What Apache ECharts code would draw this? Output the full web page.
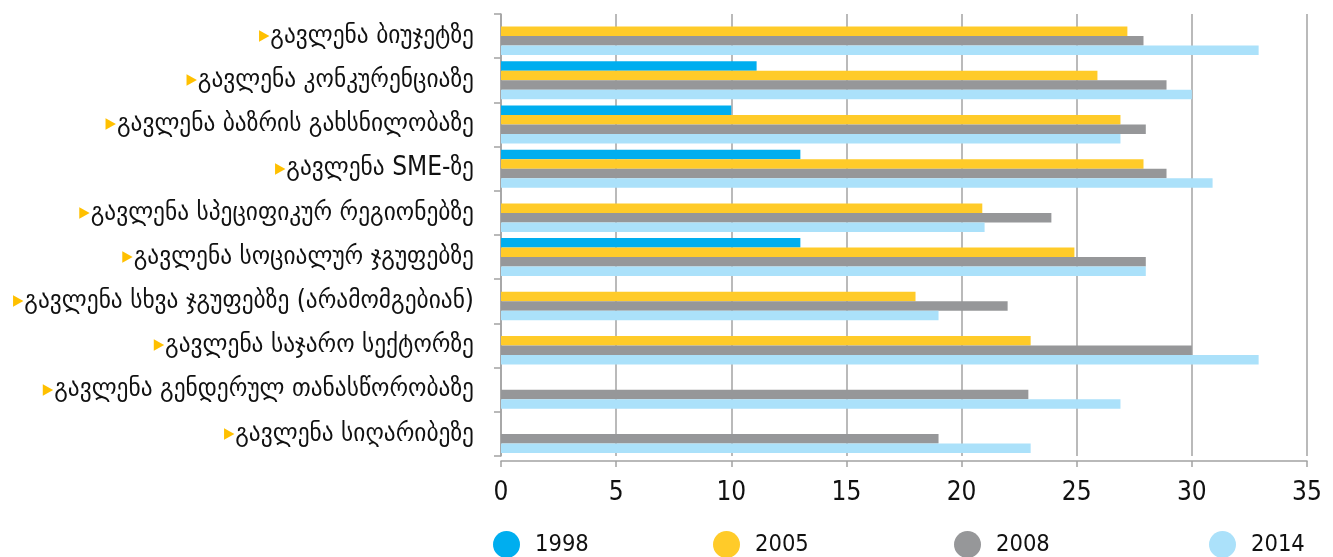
<!DOCTYPE html>
<html>
<head>
  <meta charset="utf-8">
  <title>გავლენა</title>
  <style>
    html, body { margin: 0; padding: 0; background: #fff; }
  </style>
</head>
<body>
  <div id="main" style="width: 1333px;height:557px;"></div>
</body>
<script src="https://cdn.jsdelivr.net/npm/echarts@6/dist/echarts.min.js"></script>
<script>
let myChart = echarts.init(document.querySelector('#main'))

// categories, top to bottom
let categories = [
    'გავლენა ბიუჯეტზე',
    'გავლენა კონკურენციაზე',
    'გავლენა ბაზრის გახსნილობაზე',
    'გავლენა SME-ზე',
    'გავლენა სპეციფიკურ რეგიონებზე',
    'გავლენა სოციალურ ჯგუფებზე',
    'გავლენა სხვა ჯგუფებზე (არამომგებიან)',
    'გავლენა საჯარო სექტორზე',
    'გავლენა გენდერულ თანასწორობაზე',
    'გავლენა სიღარიბეზე'
];
let years = ['1998', '2005', '2008', '2014'];
let colors = ['#00aeef', '#ffcb29', '#969799', '#abe1fa'];

let v1998 = [null, 11.1, 10.0, 13.0, null, 13.0, null, null, null, null];
let v2005 = [27.2, 25.9, 26.9, 27.9, 20.9, 24.9, 18.0, 23.0, null, null];
let v2008 = [27.9, 28.9, 28.0, 28.9, 23.9, 28.0, 22.0, 30.0, 22.9, 19.0];
let v2014 = [32.9, 30.0, 26.9, 30.9, 21.0, 28.0, 19.0, 32.9, 26.9, 23.0];

let xTicks = [0, 5, 10, 15, 20, 25, 30, 35];

let values = [v1998, v2005, v2008, v2014];
let legendLeft = [493, 713, 954, 1209];
let font = "'DejaVu Sans Condensed', 'DejaVu Sans'";

let series = years.map((y, i) => ({
    name: y,
    type: 'bar',
    barGap: '0%',
    barCategoryGap: '14%',
    itemStyle: { color: colors[i] },
    data: values[i]
}));

let legends = years.map((y, i) => ({
    data: [y],
    left: legendLeft[i],
    top: 531,
    padding: 0,
    icon: 'circle',
    itemWidth: 27,
    itemHeight: 27,
    selectedMode: false,
    textStyle: {
        fontFamily: font,
        fontSize: 23.5,
        color: '#111',
        padding: [0, 0, 0, 10]
    }
}));

let gridColor = '#a3a3a3';

let option = {
    animation: false,
    textStyle: { fontFamily: font },
    legend: legends,
    grid: {
        left: 501,
        right: 26,
        top: 14,
        bottom: 101,
        containLabel: false
    },
    xAxis: {
        type: 'value',
        min: xTicks[0],
        max: xTicks[xTicks.length - 1],
        interval: 5,
        offset: 5,
        axisLine: { show: true, lineStyle: { color: gridColor, width: 1.5 } },
        axisTick: { show: true, length: 6, lineStyle: { color: gridColor, width: 1.5 } },
        axisLabel: {
            margin: 19,
            fontSize: 26,
            color: '#111',
            fontFamily: font
        },
        splitLine: { show: true, lineStyle: { color: gridColor, width: 1.5 } }
    },
    yAxis: {
        type: 'category',
        inverse: true,
        data: categories,
        axisLine: { show: true, lineStyle: { color: gridColor, width: 1.5 } },
        axisTick: { show: true, length: 7, lineStyle: { color: gridColor, width: 1.5 } },
        axisLabel: {
            margin: 27,
            fontSize: 26,
            color: '#111',
            fontFamily: font,
            formatter: function (v) {
                return '{tri|▶}' + v;
            },
            rich: {
                tri: { color: '#ffc000', fontSize: 15, padding: [0, 1, 0, 0] }
            }
        }
    },
    series: series
};
myChart.setOption(option);
</script>
</html>
